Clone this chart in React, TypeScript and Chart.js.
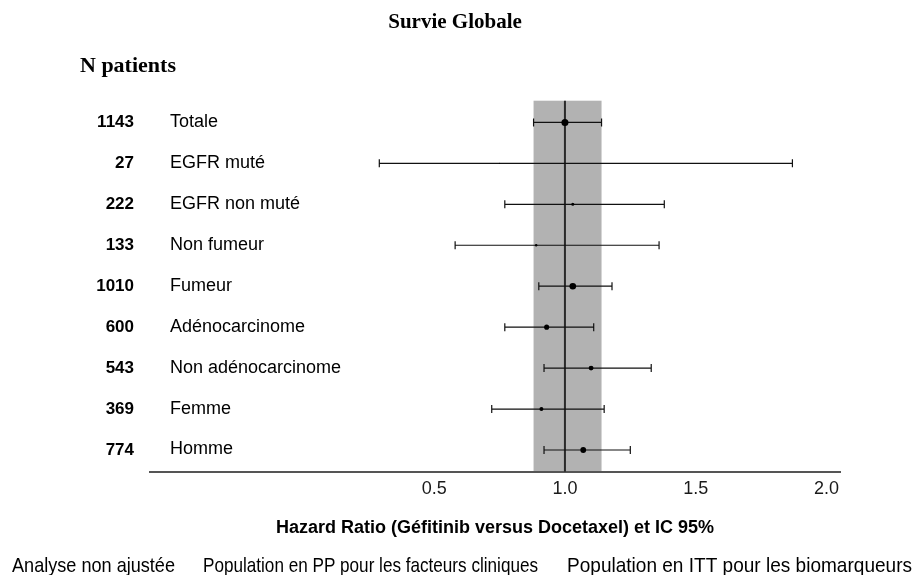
import React, { useEffect, useRef } from "react";
import { Chart, registerables } from "chart.js";

Chart.register(...registerables);

const chartTitle = "Survie Globale";
const patientsHeader = "N patients";
const categories = [
  "Totale",
  "EGFR muté",
  "EGFR non muté",
  "Non fumeur",
  "Fumeur",
  "Adénocarcinome",
  "Non adénocarcinome",
  "Femme",
  "Homme",
];
const patients = [1143, 27, 222, 133, 1010, 600, 543, 369, 774];
const hazardRatio = [1.0, 0.75, 1.03, 0.89, 1.03, 0.93, 1.1, 0.91, 1.07];
const ciLow = [0.88, 0.29, 0.77, 0.58, 0.9, 0.77, 0.92, 0.72, 0.92];
const ciHigh = [1.14, 1.87, 1.38, 1.36, 1.18, 1.11, 1.33, 1.15, 1.25];
const referenceBand = [0.88, 1.14];
const referenceLine = 1.0;
const xTicks = [0.5, 1.0, 1.5, 2.0];
const xAxisTitle = "Hazard Ratio (Géfitinib versus Docetaxel) et IC 95%";
const footnotes = [
  "Analyse non ajustée",
  "Population en PP pour les facteurs cliniques",
  "Population en ITT pour les biomarqueurs",
];

const SANS = "'Liberation Sans', Arial, sans-serif";
const SERIF = "'Liberation Serif', 'Times New Roman', serif";

const forestPlugin = {
  id: "forest",
  beforeDraw(chart: any) {
    const { ctx, chartArea, scales } = chart;
    const x = scales.x;
    ctx.save();
    ctx.fillStyle = "#ffffff";
    ctx.fillRect(0, 0, chart.width, chart.height);
    const x0 = x.getPixelForValue(referenceBand[0]);
    const x1 = x.getPixelForValue(referenceBand[1]);
    ctx.fillStyle = "#b2b2b2";
    ctx.fillRect(x0, chartArea.top, x1 - x0, chartArea.bottom - chartArea.top);
    ctx.restore();
  },
  beforeDatasetsDraw(chart: any) {
    const { ctx, chartArea, scales } = chart;
    const x = scales.x;
    const y = scales.y;
    ctx.save();
    const xr = x.getPixelForValue(referenceLine);
    ctx.strokeStyle = "#2a2a2a";
    ctx.lineWidth = 2;
    ctx.beginPath();
    ctx.moveTo(xr, chartArea.top);
    ctx.lineTo(xr, chartArea.bottom);
    ctx.stroke();

    ctx.strokeStyle = "#111111";
    ctx.lineWidth = 1.2;
    categories.forEach((_, i) => {
      const yp = y.getPixelForValue(i);
      const xl = x.getPixelForValue(ciLow[i]);
      const xh = x.getPixelForValue(ciHigh[i]);
      ctx.beginPath();
      ctx.moveTo(xl, yp);
      ctx.lineTo(xh, yp);
      ctx.moveTo(xl, yp - 4);
      ctx.lineTo(xl, yp + 4);
      ctx.moveTo(xh, yp - 4);
      ctx.lineTo(xh, yp + 4);
      ctx.stroke();
    });
    ctx.restore();
  },
  afterDraw(chart: any) {
    const { ctx, scales } = chart;
    const y = scales.y;
    const x = scales.x;
    ctx.save();
    ctx.fillStyle = "#000000";
    ctx.textBaseline = "alphabetic";

    ctx.font = `bold 21px ${SERIF}`;
    ctx.textAlign = "center";
    ctx.fillText(chartTitle, 455, 28);

    ctx.font = `bold 22px ${SERIF}`;
    ctx.textAlign = "left";
    ctx.fillText(patientsHeader, 80, 72);

    categories.forEach((label, i) => {
      const yp = y.getPixelForValue(i);
      ctx.font = `bold 17px ${SANS}`;
      ctx.textAlign = "right";
      ctx.fillText(String(patients[i]), 134, yp + 5);
      ctx.font = `18px ${SANS}`;
      ctx.textAlign = "left";
      ctx.fillText(label, 170, yp + 4.5);
    });

    ctx.font = `bold 18px ${SANS}`;
    ctx.textAlign = "center";
    const cx = (x.left + x.right) / 2;
    ctx.fillText(xAxisTitle, cx, 533);

    ctx.font = `21px ${SANS}`;
    ctx.textAlign = "left";
    const footX = [12, 203, 567];
    const footW = [163, 335, 345];
    footnotes.forEach((t, i) => {
      ctx.fillText(t, footX[i], 572, footW[i]);
    });
    ctx.restore();
  },
};

export default function App() {
  const canvasRef = useRef<HTMLCanvasElement | null>(null);

  useEffect(() => {
    const canvas = canvasRef.current;
    if (!canvas) return;
    const radius = patients.map((n) => 0.104 * Math.sqrt(n));
    const chart = new Chart(canvas, {
      type: "scatter",
      data: {
        datasets: [
          {
            label: "HR",
            data: hazardRatio.map((v, i) => ({ x: v, y: i })),
            backgroundColor: "#000000",
            borderColor: "#000000",
            borderWidth: 0,
            pointRadius: radius,
            pointHoverRadius: radius,
          },
        ],
      },
      options: {
        animation: false,
        responsive: false,
        devicePixelRatio: 1,
        layout: { padding: { left: 150, right: 81, top: 100.7, bottom: 0 } },
        plugins: {
          legend: { display: false },
          tooltip: { enabled: false },
          title: { display: false },
        },
        scales: {
          x: {
            type: "linear",
            min: -0.587,
            max: 2.052,
            afterBuildTicks: (scale: any) => {
              scale.ticks = xTicks.map((v) => ({ value: v }));
            },
            afterFit: (scale: any) => {
              scale.height = 575 - 471.7;
            },
            grid: { display: true, drawOnChartArea: false, drawTicks: false },
            border: { display: true, color: "#555555", width: 2 },
            ticks: {
              padding: 7,
              color: "#1a1a1a",
              font: { family: SANS, size: 18 },
              callback: (v: any) => Number(v).toFixed(1),
              maxRotation: 0,
              autoSkip: false,
            },
          },
          y: {
            type: "linear",
            reverse: true,
            min: -0.53,
            max: 8.53,
            display: false,
          },
        },
      },
      plugins: [forestPlugin],
    });
    return () => chart.destroy();
  }, []);

  return (
    <div style={{ position: "fixed", left: 0, top: 0, width: 921, height: 575, background: "#fff" }}>
      <canvas ref={canvasRef} width={921} height={575} style={{ width: 921, height: 575, display: "block" }} />
    </div>
  );
}
